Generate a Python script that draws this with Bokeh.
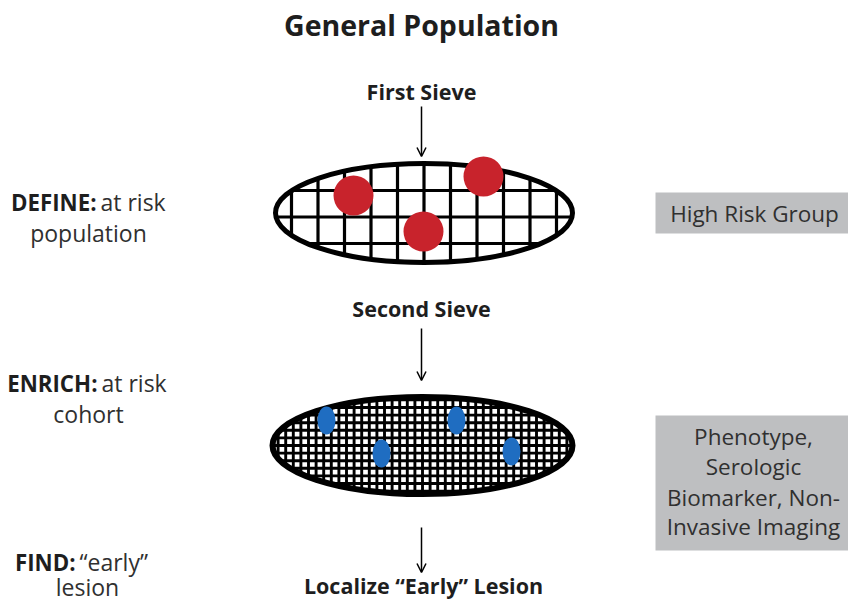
from bokeh.plotting import figure
from bokeh.models import Range1d, Arrow, OpenHead
from bokeh.core.properties import value
from bokeh.embed import file_html
from bokeh.resources import INLINE
import numpy as np

FONT = "Open Sans"

# ---- content ----
title_text = "General Population"
sieve_labels = ["First Sieve", "Second Sieve", "Localize \u201cEarly\u201d Lesion"]
stage_bold = ["DEFINE:", "ENRICH:", "FIND:"]
stage_rest = ["at risk", "at risk", "\u201cearly\u201d"]
stage_line2 = ["population", "cohort", "lesion"]
box1_lines = ["High Risk Group"]
box2_lines = ["Phenotype,", "Serologic", "Biomarker, Non-", "Invasive Imaging"]

# red "high risk" dots on first sieve
red_x = [353, 483, 423]
red_y = [195, 176, 231]
# blue "enriched" dots on second sieve
blue_x = [326, 456, 381, 511]
blue_y = [420, 420, 453, 451]

RED = "#c8232c"
BLUE = "#1f6dc1"
GRAY = "#bebfc1"
DARK = "#1e1e1e"
TXT = "#303030"

W, H = 848, 603
p = figure(width=W, height=H, x_range=Range1d(0, W), y_range=Range1d(H, 0),
           output_backend="svg", toolbar_location=None, min_border=0)
p.axis.visible = False
p.grid.visible = False
p.outline_line_color = None
p.background_fill_color = "white"
p.border_fill_color = "white"

K = 0.42  # baseline correction factor


def txt(xs, baselines, texts, size, bold=False, align="center", color=TXT):
    p.text(x=xs, y=[b - K * size for b in baselines], text=texts, text_font=value(FONT),
           text_font_size=f"{size}px", text_font_style="bold" if bold else "normal",
           text_align=align, text_baseline="alphabetic", text_color=color)


def sieve(cx, cy, w, h, step, lw, xoff, yoff, border):
    a, b = w / 2.0, h / 2.0
    x0, y0, x1, y1 = [], [], [], []
    k = np.arange(-60, 61)
    for x in cx + xoff + k * step:
        t = (x - cx) / a
        if abs(t) < 0.995:
            hh = b * np.sqrt(1 - t * t)
            x0.append(x); x1.append(x); y0.append(cy - hh); y1.append(cy + hh)
    for y in cy + yoff + k * step:
        t = (y - cy) / b
        if abs(t) < 0.995:
            ww = a * np.sqrt(1 - t * t)
            y0.append(y); y1.append(y); x0.append(cx - ww); x1.append(cx + ww)
    p.ellipse(x=[cx], y=[cy], width=[w], height=[h], fill_color="white", line_color=None)
    p.segment(x0=x0, y0=y0, x1=x1, y1=y1, line_color="black", line_width=lw)
    p.ellipse(x=[cx], y=[cy], width=[w], height=[h], fill_color=None,
              line_color="black", line_width=border)


# first sieve: coarse mesh
sieve(423.5, 212.5, 297, 99, 26.5, 3.2, 0, 4, 5)
p.circle(x=red_x, y=red_y, radius=20, fill_color=RED, line_color=None)

# second sieve: fine mesh
sieve(422, 445, 300, 97, 7.6, 2.9, 0, 0, 6)
p.ellipse(x=blue_x, y=blue_y, width=18, height=28, fill_color=BLUE, line_color=None)

# arrows
for ys, ye in [(106, 156), (328, 380), (527, 572)]:
    p.add_layout(Arrow(end=OpenHead(size=9, line_width=1.5, line_color="black"),
                       x_start=421, y_start=ys, x_end=421, y_end=ye,
                       line_width=1.5, line_color="black"))

# title and sieve labels
txt([421], [36], [title_text], 28.5, bold=True, color=DARK)
txt([421, 421, 423], [100, 317, 594], sieve_labels, 21.5, bold=True, color=DARK)

# left stage labels
split_x = [96, 97, 75]
txt(split_x, [211, 392, 571], stage_bold, 22.3, bold=True, align="right", color=DARK)
txt([s + 4 for s in split_x], [211, 392, 571], stage_rest, 23, align="left")
txt([88, 88, 87], [242, 423, 596], stage_line2, 23)

# right boxes
p.quad(left=[655, 655], right=[W, W], top=[192, 415], bottom=[233, 550],
       fill_color=GRAY, line_color=None)
txt([754], [222], box1_lines, 22.5)
txt([753] * 4, [445, 475, 506, 535], box2_lines, 22.5)

open("out.html", "w").write(file_html(p, INLINE))
